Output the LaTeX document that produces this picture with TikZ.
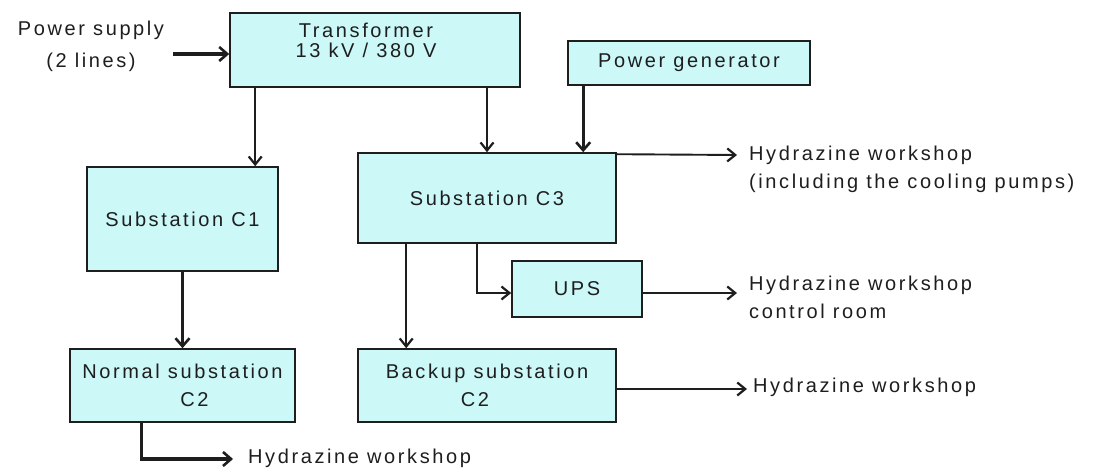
\documentclass[tikz,border=0pt]{standalone}
\usepackage{fontspec}
\setmainfont[LetterSpace=13]{Liberation Sans}
\usetikzlibrary{arrows.meta}
\definecolor{boxfill}{HTML}{CCF8F8}
\definecolor{ink}{HTML}{1E1E1E}
\tikzset{
  box/.style={draw=ink, fill=boxfill, line width=1.6pt, inner sep=0pt, align=center, text=ink},
  lbl/.style={inner sep=0pt, text=ink},
  arr/.style={draw=ink, line width=1.9pt, -{Straight Barb[length=8pt,width=13pt,line width=2.2pt]}},
  tarr/.style={draw=ink, line width=3.2pt, -{Straight Barb[length=8pt,width=14pt,line width=2.6pt]}},
}
\begin{document}
\begin{tikzpicture}[x=1pt, y=-1pt, font=\fontsize{20}{29}\selectfont]
\fill[white] (0,0) rectangle (1093,470);
\useasboundingbox (0,0) rectangle (1093,470);

% boxes
\node[box, minimum width=290pt, minimum height=74pt] (tr) at (375,50) {};
\node[lbl, align=center] (trtext) at (366,40) {Transformer\\[-9pt]13 kV / 380 V};
\node[box, minimum width=242pt, minimum height=44pt] (pg) at (689,63) {Power generator};
\node[box, minimum width=258pt, minimum height=90pt] (c3) at (487,198) {Substation C3};
\node[box, minimum width=191pt, minimum height=104pt] (c1) at (182.5,219) {Substation C1};
\node[box, minimum width=225pt, minimum height=73pt] (n2) at (182.5,385.5) {Normal substation\\[-1pt]\hspace*{24pt}C2};
\node[box, minimum width=258pt, minimum height=73pt] (b2) at (487,385.5) {Backup substation\\[-1pt]C2\hspace*{24pt}};
\node[box, minimum width=130pt, minimum height=56pt] (ups) at (577,289) {UPS};

% labels
\node[lbl, align=center] (ps) at (91,46) {Power supply\\[3pt](2 lines)};
\node[lbl, align=left, anchor=west] (h1) at (749,169) {Hydrazine workshop\\[-1pt](including the cooling pumps)};
\node[lbl, align=left, anchor=west] (h2) at (749,297) {Hydrazine workshop\\[-1pt]control room};
\node[lbl, anchor=west] (h3) at (753,387) {Hydrazine workshop};
\node[lbl, anchor=west] (h4) at (248,458) {Hydrazine workshop};

% free ends
\coordinate (psend) at (173,54);
\coordinate (h1end) at (737,155);
\coordinate (h2end) at (737,293);
\coordinate (h3end) at (747,389);
\coordinate (h4end) at (233,459);

% connectors
\draw[tarr] (psend) -- (psend -| tr.west);
\draw[arr] ([xshift=26pt]tr.south west) -- ([xshift=26pt]tr.south west |- c1.north);
\draw[arr] (c3.north |- tr.south) -- (c3.north);
\draw[tarr] ([xshift=16pt]pg.south west) -- ([xshift=16pt]pg.south west |- c3.north);
\draw[arr] ([yshift=-2pt]c3.north east) -- (h1end);
\draw[tarr] (c1.south) -- (n2.north);
\draw[tarr] ([xshift=72pt]n2.south west) |- (h4end);
\draw[arr] ([xshift=49pt]c3.south west) -- ([xshift=49pt]c3.south west |- b2.north);
\draw[arr] ([xshift=120pt]c3.south west) |- ([yshift=-4pt]ups.west);
\draw[arr] ([yshift=-4pt]ups.east) -- (h2end);
\draw[arr] ([yshift=-3.5pt]b2.east) -- (h3end);
\end{tikzpicture}
\end{document}
